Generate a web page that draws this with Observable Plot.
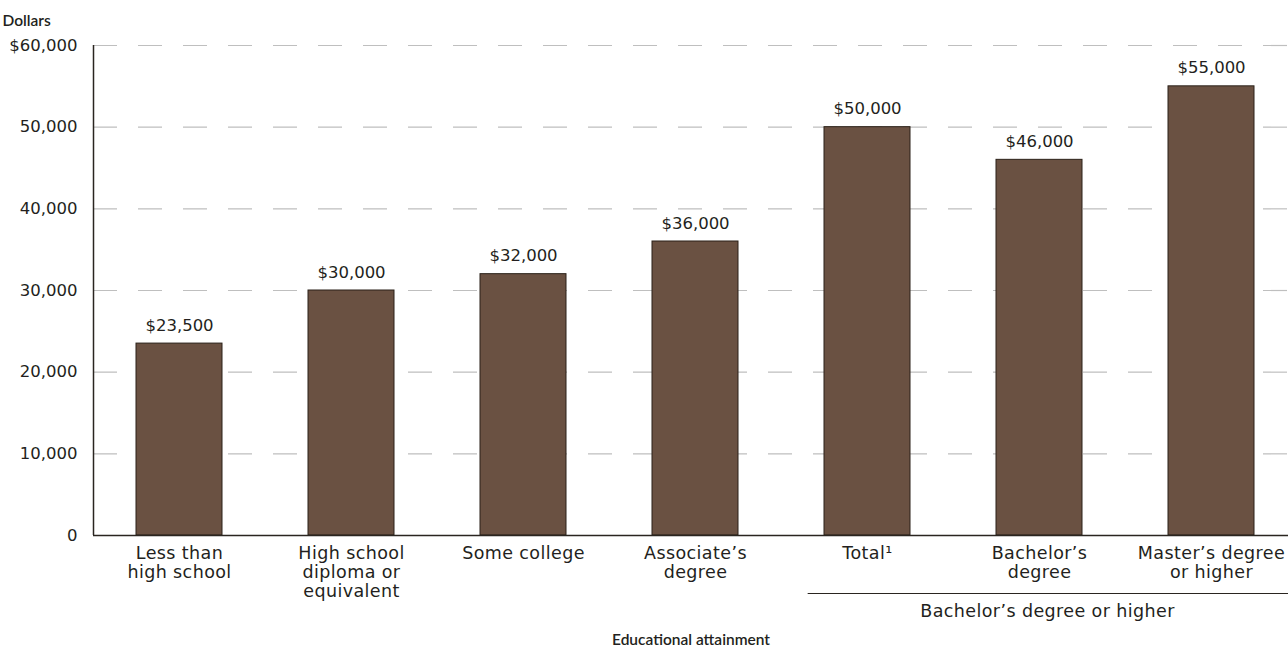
<!DOCTYPE html>
<html>
<head>
<meta charset="utf-8">
<script src="https://cdn.jsdelivr.net/npm/d3@7"></script>
<script src="https://cdn.jsdelivr.net/npm/@observablehq/plot@0.6"></script>
<style>
  body { margin: 0; background: #fff; overflow: hidden; }
  #chart svg { display: block; }
  .cat-axis text { letter-spacing: 0.4px; }
</style>
</head>
<body>
<div id="chart"></div>
<script>
const categories = [
  "Less than\nhigh school",
  "High school\ndiploma or\nequivalent",
  "Some college",
  "Associate’s\ndegree",
  "Total¹",
  "Bachelor’s\ndegree",
  "Master’s degree\nor higher"
];
const values = [23500, 30000, 32000, 36000, 50000, 46000, 55000];
const valueLabels = ["$23,500", "$30,000", "$32,000", "$36,000", "$50,000", "$46,000", "$55,000"];
const yTicks = [0, 10000, 20000, 30000, 40000, 50000, 60000];
const yTickLabels = ["0", "10,000", "20,000", "30,000", "40,000", "50,000", "$60,000"];
const groupLabel = "Bachelor’s degree or higher";
const xTitle = "Educational attainment";
const yTitle = "Dollars";

const data = categories.map((c, i) => ({cat: c, value: values[i], label: valueLabels[i]}));

const font = "'DejaVu Sans', sans-serif";
const titleFont = "Lato, 'DejaVu Sans', sans-serif";
const ink = "#231f20";

const plot = Plot.plot({
  width: 1288,
  height: 648,
  marginTop: 45,
  marginBottom: 113,
  marginLeft: 93,
  marginRight: 0,
  style: {fontFamily: font, fontSize: "17px", color: ink, background: "#fff"},
  x: {domain: categories, range: [93, 1297], paddingInner: 0.5, paddingOuter: 0.25, label: null},
  y: {domain: [0, 60000], label: null},
  marks: [
    Plot.ruleY(yTicks.filter(d => d > 0), {stroke: "#bfbfbf", strokeWidth: 1.2, strokeDasharray: "24,21"}),
    Plot.barY(data, {x: "cat", y: "value", fill: "#6a5142", stroke: "#2a2119", strokeWidth: 1}),
    Plot.ruleY([0], {stroke: "#2a2520", strokeWidth: 1.5}),
    Plot.text(data, {x: "cat", y: "value", text: "label", lineAnchor: "bottom", dy: -13, fontSize: 16.5, fill: ink}),
    Plot.axisY({ticks: yTicks, tickFormat: d => yTickLabels[yTicks.indexOf(d)], tickSize: 0, tickPadding: 16, fontSize: 16.5, label: null}),
    Plot.axisX({tickSize: 0, tickPadding: 10, fontSize: 17.5, lineHeight: 1.08, label: null, className: "cat-axis"}),
    Plot.text([yTitle], {frameAnchor: "top-left", dx: -91, dy: -31, textAnchor: "start", fontWeight: 600, fontSize: 15.5, fontFamily: titleFont, fill: ink}),
    Plot.text([xTitle], {frameAnchor: "bottom", dy: 109, fontWeight: 600, fontSize: 15.5, fontFamily: titleFont, fill: ink}),
    Plot.text([groupLabel], {x: [categories[5]], frameAnchor: "bottom", dx: 8, dy: 81, fontSize: 17.5, fill: ink, className: "cat-axis"})
  ]
});

// y axis line and group bracket line, positioned via the plot's scales
const xs = plot.scale("x");
const ys = plot.scale("y");
const svg = d3.select(plot);
svg.append("line")
  .attr("x1", 93.5).attr("x2", 93.5)
  .attr("y1", ys.apply(60000)).attr("y2", ys.apply(0))
  .attr("stroke", "#2a2520").attr("stroke-width", 1.5);
const bw = xs.bandwidth;
const gx1 = xs.apply(categories[4]) + bw / 2 - 0.345 * xs.step;
svg.append("line")
  .attr("x1", gx1).attr("x2", 1288)
  .attr("y1", 593.5).attr("y2", 593.5)
  .attr("stroke", "#2a2520").attr("stroke-width", 1.2);

document.getElementById("chart").appendChild(plot);
</script>
</body>
</html>
